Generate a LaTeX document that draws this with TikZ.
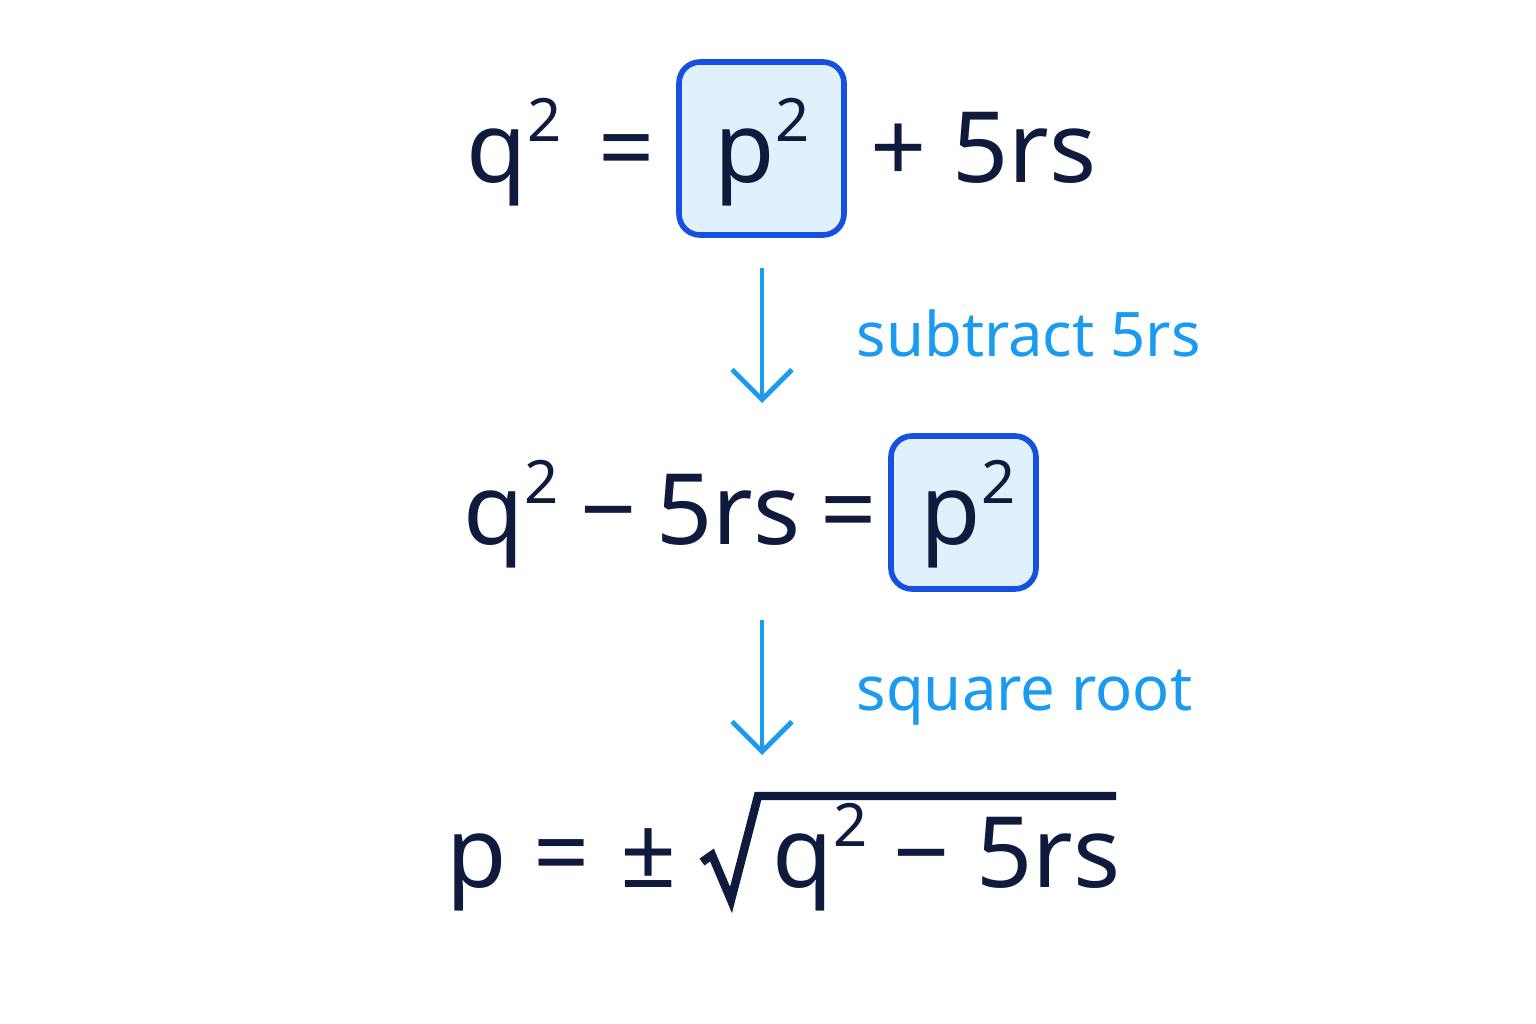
\documentclass[tikz,border=0pt]{standalone}
\usepackage{fontspec}
\setmainfont{Noto Sans}
\usetikzlibrary{arrows.meta}
\definecolor{ink}{HTML}{0F1B3D}
\definecolor{stepblue}{HTML}{1A9BF0}
\definecolor{boxline}{HTML}{1550E0}
\definecolor{boxfill}{HTML}{E1F0FD}
\tikzset{
  eq/.style={anchor=base west,inner sep=0pt,text=ink,font=\fontsize{28}{28}\selectfont},
  steplabel/.style={anchor=base west,inner sep=0pt,text=stepblue,font=\fontsize{17.5}{17.5}\selectfont},
  hl/.style={draw=boxline,fill=boxfill,line width=1.6pt,rounded corners=6pt},
  go/.style={draw=stepblue,line width=1.4pt,-{Straight Barb[length=3mm,width=6mm]}}
}
\newcommand{\sq}[1]{#1\raisebox{0.42em}{\fontsize{17}{17}\selectfont 2}}
\begin{document}
\begin{tikzpicture}[x=0.1mm,y=-0.1mm]
\useasboundingbox (0,0) rectangle (1536,1024);
% boxes first
\draw[hl] (679,62) rectangle (844,235);
\draw[hl] (891,436) rectangle (1036,589);
% line 1
\node[eq] (qa) at (466,183) {\sq{q}};
\node[eq] (eqa) at (598,183) {=};
\node[eq] (pa) at (714,183) {\sq{p}};
\node[eq] (rest) at (870,183) {+ 5rs};
% line 2
\node[eq] (qb) at (463,545) {\sq{q}};
\node[eq] (mb) at (580,545) {\textminus};
\node[eq] (rb) at (656,545) {5rs};
\node[eq] (eqb) at (820,545) {=};
\node[eq] (pb) at (920,545) {\sq{p}};
% line 3
\node[eq] (pc) at (446,888) {p};
\node[eq] (eqc) at (533,888) {=};
\node[eq] (pm) at (620,888) {±};
\node[eq] (qc) at (772,888) {\sq{q}};
\node[eq] (mc) at (893,888) {\textminus};
\node[eq] (rc) at (976,888) {5rs};
\draw[ink,line width=2.4pt,line join=miter] (702,862) -- (712,855) -- (731,900) -- (758,796) -- (1116,796);
% steps
\coordinate (s1) at (762,268);
\coordinate (e1) at (762,403);
\coordinate (s2) at (762,620);
\coordinate (e2) at (762,755);
\draw[go] (s1) -- (e1);
\draw[go] (s2) -- (e2);
\node[steplabel] (sub) at (856,357) {subtract 5rs};
\node[steplabel] (root) at (856,710) {square root};
\end{tikzpicture}
\end{document}
